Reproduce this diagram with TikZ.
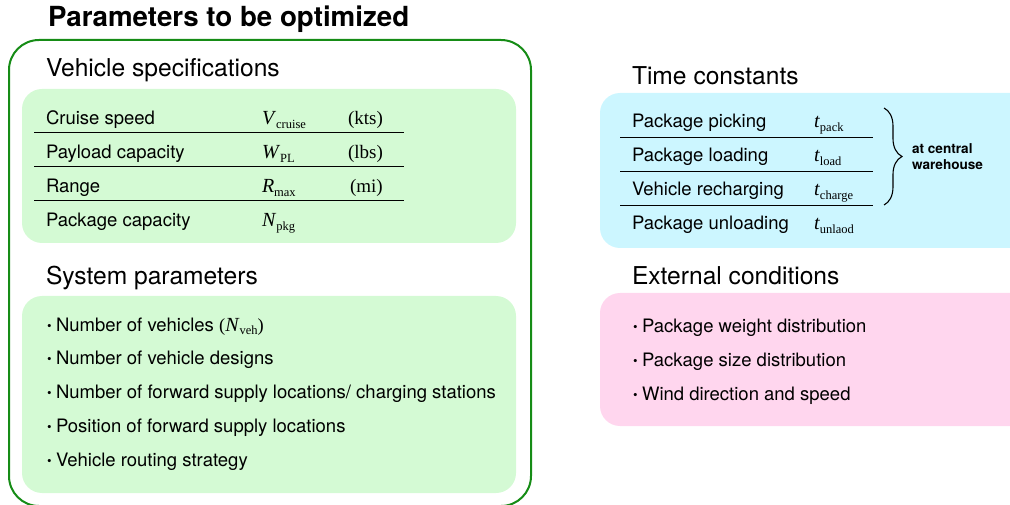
\documentclass[tikz,border=0pt]{standalone}
\usepackage{fontspec}
\setmainfont{TeX Gyre Heros}
\newfontfamily\tmsfont{Liberation Serif}
\usetikzlibrary{positioning,decorations.pathreplacing}

\definecolor{framegreen}{RGB}{22,140,22}
\definecolor{specgreen}{RGB}{212,250,212}
\definecolor{timecyan}{RGB}{204,246,255}
\definecolor{extpink}{RGB}{255,214,238}

% italic variable with an upright subscript
\newcommand{\symb}[2]{{\tmsfont\fontsize{20}{20}\selectfont\textit{#1}\raisebox{-0.35ex}{\fontsize{12.5}{12.5}\selectfont #2}}}
\newcommand{\unit}[1]{{\tmsfont\fontsize{19}{19}\selectfont #1}}
\newcommand{\bul}{\raisebox{0.1ex}{\scalebox{0.7}{\textbullet}}\hspace{4.5pt}}

\begin{document}
\begin{tikzpicture}[x=1pt,y=-1pt]
        \tikzstyle{every node}=[inner sep=0pt, outer sep=0pt, anchor=base west]
        \tikzstyle{heading}=[font=\fontsize{24.6}{28}\selectfont]
        \tikzstyle{rowtext}=[font=\fontsize{18.5}{21}\selectfont]
        \tikzstyle{rule}=[line width=0.9pt]
        \tikzstyle{panel}=[rounded corners=20pt]

        \useasboundingbox (0,0) rectangle (1010,505);
        \clip (0,0) rectangle (1010,505);

        % title and frame
        \node (title) [font=\bfseries\fontsize{27.7}{30}\selectfont] at (48,27) {Parameters to be optimized};
        \draw[framegreen, line width=2pt, rounded corners=30pt] (9,40) rectangle (531,506);

        % vehicle specifications
        \node (vspec) [heading] at (46,77) {Vehicle specifications};
        \fill[specgreen, panel] (22,89) rectangle (516,243);
        \node (cruise)      [rowtext] at (46,125) {Cruise speed};
        \node (cruisesym)   at (262,125) {\symb{V}{cruise}};
        \node (cruiseunit)  at (348,125) {\unit{(kts)}};
        \node (payload)     [rowtext] at (46,159) {Payload capacity};
        \node (payloadsym)  at (262,159) {\symb{W}{PL}};
        \node (payloadunit) at (348,159) {\unit{(lbs)}};
        \node (range)       [rowtext] at (46,193) {Range};
        \node (rangesym)    at (262,193) {\symb{R}{max}};
        \node (rangeunit)   at (350,193) {\unit{(mi)}};
        \node (pkgcap)      [rowtext] at (46,227) {Package capacity};
        \node (pkgcapsym)   at (262,227) {\symb{N}{pkg}};
        \foreach \y in {132,166,200}
            \draw[rule] (34,\y) -- (404,\y);

        % system parameters
        \node (syspar) [heading] at (46,284) {System parameters};
        \fill[specgreen, panel] (22,296) rectangle (516,493);
        \foreach \txt [count=\i] in {{Number of vehicles {\tmsfont(}\symb{N}{veh}{\tmsfont)}},
                Number of vehicle designs,
                Number of forward supply locations/ charging stations,
                Position of forward supply locations,
                Vehicle routing strategy}
            \node (sys\i) [rowtext] at (47,{331+33.8*(\i-1)}) {\bul\txt};

        % time constants
        \node (tconst) [heading] at (632,85) {Time constants};
        \fill[timecyan, panel] (600,93) rectangle (1040,248);
        \node (pick)      [rowtext] at (632,128) {Package picking};
        \node (picksym)   at (814,128) {\symb{t}{pack}};
        \node (load)      [rowtext] at (632,162) {Package loading};
        \node (loadsym)   at (814,162) {\symb{t}{load}};
        \node (charge)    [rowtext] at (632,196) {Vehicle recharging};
        \node (chargesym) at (814,196) {\symb{t}{charge}};
        \node (unload)    [rowtext] at (632,230) {Package unloading};
        \node (unloadsym) at (814,230) {\symb{t}{unlaod}};
        \foreach \y in {137,171,205}
            \draw[rule] (620,\y) -- (873,\y);

        \coordinate (bracetop) at (884,108);
        \coordinate (bracebot) at (884,205);
        \draw[line width=1.1pt, decorate, decoration={brace, amplitude=18pt}] (bracetop) -- (bracebot);
        \node (warehouse) [font=\bfseries\fontsize{13.6}{16}\selectfont, align=left, anchor=west] at (912,157)
            {at central\\warehouse};

        % external conditions
        \node (extcond) [heading] at (632,285) {External conditions};
        \fill[extpink, panel] (600,293) rectangle (1040,426);
        \node (weight) [rowtext] at (633,332) {\bul Package weight distribution};
        \node (size)   [rowtext] at (633,366) {\bul Package size distribution};
        \node (wind)   [rowtext] at (633,400) {\bul Wind direction and speed};
    \end{tikzpicture}
\end{document}
